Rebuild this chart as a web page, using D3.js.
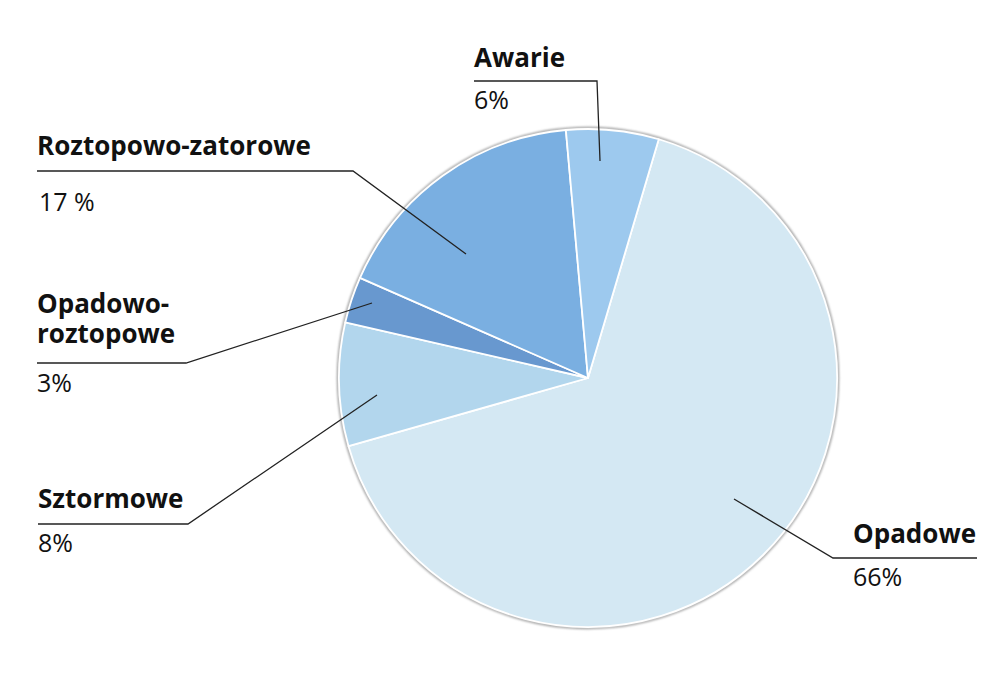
<!DOCTYPE html>
<html><head><meta charset="utf-8">
<script src="https://cdn.jsdelivr.net/npm/d3@7"></script>
<style>
body{margin:0;background:#fff;}
text{font-family:"Open Sans",sans-serif;fill:#111;}
</style></head>
<body>
<svg id="chart" width="1000" height="700"></svg>
<script>
const categories = ["Opadowe","Sztormowe","Opadowo-roztopowe","Roztopowo-zatorowe","Awarie"];
const values = [66, 8, 3, 17, 6];
const valueLabels = ["66%","8%","3%","17 %","6%"];
const colors = ["#d4e8f3","#b2d6ed","#6898cf","#7aafe1","#9dc9ee"];

const svg = d3.select("#chart");
const cx = 588, cy = 378, R = 249;
const g = svg.append("g").attr("transform",`translate(${cx},${cy})`);

const defs = svg.append("defs");
const f = defs.append("filter").attr("id","sh").attr("x","-10%").attr("y","-10%").attr("width","120%").attr("height","120%");
f.append("feGaussianBlur").attr("stdDeviation",1.2);

g.append("circle").attr("r",R+1.2).attr("fill","none").attr("stroke","#9a9a9a").attr("stroke-width",2).attr("filter","url(#sh)");

const start = 16.5*Math.PI/180;
const pie = d3.pie().sort(null).value(d=>d).startAngle(start).endAngle(start+2*Math.PI);
const arcs = pie(values);
const arc = d3.arc().innerRadius(0).outerRadius(R);
g.selectAll("path.slice").data(arcs).enter().append("path")
  .attr("class","slice").attr("d",arc)
  .attr("fill",(d,i)=>colors[i]).attr("stroke","#fff").attr("stroke-width",1.8).attr("stroke-linejoin","round");

// label layout (annotation text and leader line positions)
const nameLines = [["Opadowe"],["Sztormowe"],["Opadowo-","roztopowe"],["Roztopowo-zatorowe"],["Awarie"]];
const layout = [
  {nx:853, ny:543, vx:853, vy:586, line:[[977,558],[833,558],[734,499]]},
  {nx:38, ny:508, vx:38, vy:552, line:[[38,524],[188,524],[377,395]]},
  {nx:37, ny:313, vx:37, vy:392, line:[[37,363],[186,363],[372,303]]},
  {nx:37, ny:155, vx:39, vy:211, line:[[37,171],[353,171],[466,254]]},
  {nx:474, ny:67, vx:474, vy:109, line:[[474,81],[597,81],[600,161]]}
];
const line = d3.line();
layout.forEach((L,i)=>{
  svg.append("path").attr("d",line(L.line)).attr("fill","none").attr("stroke","#222").attr("stroke-width",1.3);
  const t = svg.append("text").attr("x",L.nx).attr("y",L.ny).attr("font-size",26).attr("font-weight","bold");
  nameLines[i].forEach((s,j)=>t.append("tspan").attr("x",L.nx).attr("dy",j?30:0).text(s));
  svg.append("text").attr("x",L.vx).attr("y",L.vy).attr("font-size",25).text(valueLabels[i]);
});
</script>
</body></html>
